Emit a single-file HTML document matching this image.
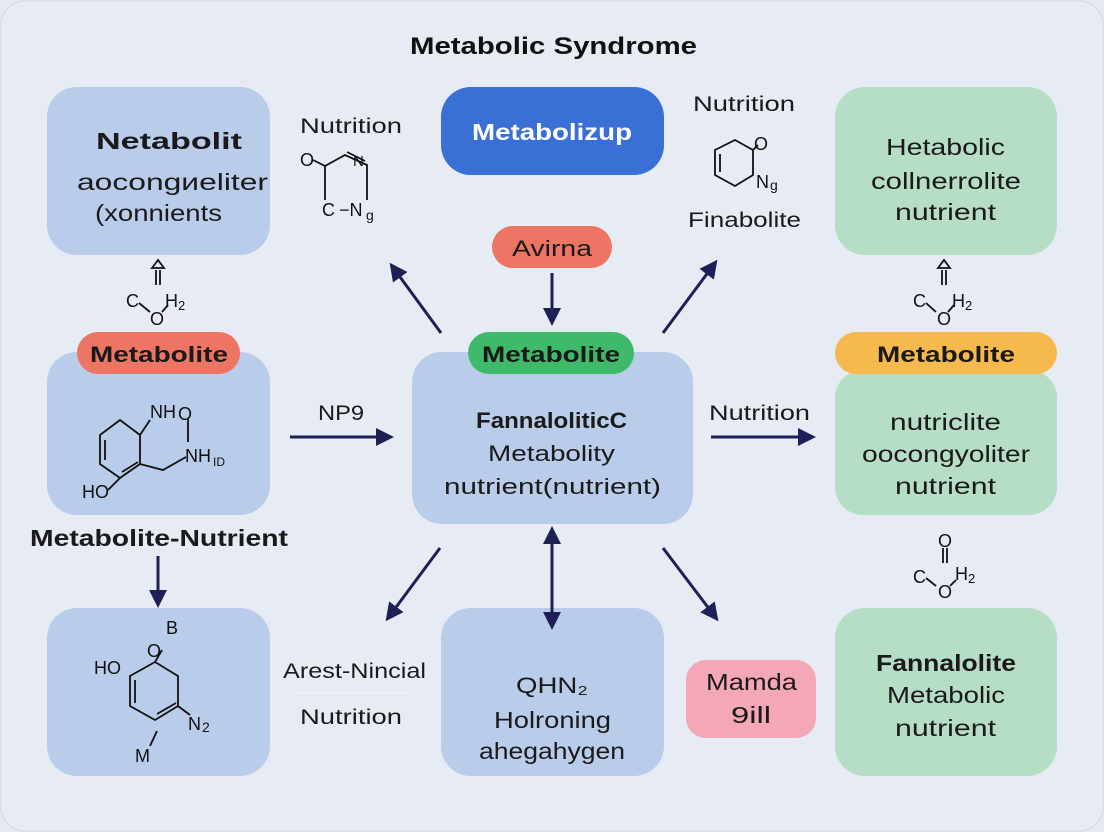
<!DOCTYPE html>
<html><head><meta charset="utf-8"><style>
html,body{margin:0;padding:0;background:#e4e9f2;}
svg{display:block;font-family:"Liberation Sans",sans-serif;}
</style></head><body>
<svg width="1104" height="832" viewBox="0 0 1104 832" xmlns="http://www.w3.org/2000/svg">
<defs>
<marker id="b" markerWidth="18" markerHeight="18" refX="14" refY="9" orient="auto-start-reverse" markerUnits="userSpaceOnUse"><path d="M0,0 L18,9 L0,18 Z" fill="#1e1f55"/></marker>
</defs>
<rect x="1" y="1" width="1102" height="830" rx="24" fill="#e6ebf4" stroke="#d3d9e4"/>
<text x="410" y="54" font-size="24" font-weight="bold" fill="#111" textLength="287" lengthAdjust="spacingAndGlyphs">Metabolic Syndrome</text>

<rect x="47" y="87" width="223" height="168" rx="30" fill="#b9cce9"/>
<rect x="47" y="352" width="223" height="163" rx="30" fill="#b9cce9"/>
<rect x="47" y="608" width="223" height="168" rx="30" fill="#b9cce9"/>
<rect x="441" y="87" width="223" height="88" rx="30" fill="#3a6fd5"/>
<rect x="412" y="352" width="281" height="172" rx="30" fill="#b9cce9"/>
<rect x="441" y="608" width="223" height="168" rx="30" fill="#b9cce9"/>
<rect x="835" y="87" width="222" height="168" rx="30" fill="#b6ddc6"/>
<rect x="835" y="370" width="222" height="145" rx="28" fill="#b6ddc6"/>
<rect x="835" y="608" width="222" height="168" rx="30" fill="#b6ddc6"/>

<rect x="77" y="332" width="163" height="42" rx="21" fill="#ec7563"/>
<rect x="468" y="332" width="166" height="42" rx="21" fill="#3fba6a"/>
<rect x="835" y="332" width="222" height="42" rx="21" fill="#f5b94e"/>
<rect x="492" y="226" width="120" height="42" rx="21" fill="#ec7563"/>
<rect x="686" y="660" width="130" height="78" rx="20" fill="#f4a7b6"/>

<g fill="#1a1a1a" lengthAdjust="spacingAndGlyphs">
<text x="90" y="362" font-size="22" font-weight="bold" textLength="138" lengthAdjust="spacingAndGlyphs">Metabolite</text>
<text x="482" y="362" font-size="22" font-weight="bold" textLength="138" lengthAdjust="spacingAndGlyphs">Metabolite</text>
<text x="877" y="362" font-size="22" font-weight="bold" textLength="138" lengthAdjust="spacingAndGlyphs">Metabolite</text>
<text x="512" y="256" font-size="22" textLength="80" lengthAdjust="spacingAndGlyphs">Avirna</text>
<text x="706" y="690" font-size="23" textLength="91" lengthAdjust="spacingAndGlyphs">Mamda</text>
<text x="731" y="723" font-size="23" textLength="40" lengthAdjust="spacingAndGlyphs">9ill</text>

<text x="96" y="149" font-size="23" font-weight="bold" textLength="146" lengthAdjust="spacingAndGlyphs">Netabolit</text>
<text x="77" y="190" font-size="23" textLength="191" lengthAdjust="spacingAndGlyphs">aocongиeliter</text>
<text x="95" y="221" font-size="23" textLength="127" lengthAdjust="spacingAndGlyphs">(xonnients</text>
<text x="472" y="140" font-size="23" font-weight="bold" fill="#fff" textLength="160" lengthAdjust="spacingAndGlyphs">Metabolizup</text>
<text x="886" y="155" font-size="23" textLength="119" lengthAdjust="spacingAndGlyphs">Hetabolic</text>
<text x="871" y="189" font-size="23" textLength="150" lengthAdjust="spacingAndGlyphs">collnerrolite</text>
<text x="895" y="220" font-size="23" textLength="101" lengthAdjust="spacingAndGlyphs">nutrient</text>
<text x="476" y="428" font-size="22" font-weight="bold" textLength="151" lengthAdjust="spacingAndGlyphs">FannaloliticC</text>
<text x="488" y="461" font-size="22" textLength="127" lengthAdjust="spacingAndGlyphs">Metabolity</text>
<text x="444" y="494" font-size="22" textLength="217" lengthAdjust="spacingAndGlyphs">nutrient(nutrient)</text>
<text x="890" y="430" font-size="23" textLength="111" lengthAdjust="spacingAndGlyphs">nutriclite</text>
<text x="862" y="462" font-size="23" textLength="168" lengthAdjust="spacingAndGlyphs">oocongyoliter</text>
<text x="895" y="494" font-size="23" textLength="101" lengthAdjust="spacingAndGlyphs">nutrient</text>
<text x="516" y="693" font-size="22" textLength="72" lengthAdjust="spacingAndGlyphs">QHN₂</text>
<text x="494" y="728" font-size="23" textLength="117" lengthAdjust="spacingAndGlyphs">Holroning</text>
<text x="479" y="759" font-size="23" textLength="146" lengthAdjust="spacingAndGlyphs">ahegahygen</text>
<text x="876" y="671" font-size="23" font-weight="bold" textLength="140" lengthAdjust="spacingAndGlyphs">Fannalolite</text>
<text x="887" y="703" font-size="23" textLength="118" lengthAdjust="spacingAndGlyphs">Metabolic</text>
<text x="895" y="736" font-size="23" textLength="101" lengthAdjust="spacingAndGlyphs">nutrient</text>
<text x="300" y="133" font-size="21" textLength="102" lengthAdjust="spacingAndGlyphs">Nutrition</text>
<text x="693" y="111" font-size="21" textLength="102" lengthAdjust="spacingAndGlyphs">Nutrition</text>
<text x="688" y="227" font-size="21" textLength="113" lengthAdjust="spacingAndGlyphs">Finabolite</text>
<text x="318" y="420" font-size="21" textLength="46" lengthAdjust="spacingAndGlyphs">NP9</text>
<text x="709" y="420" font-size="21" textLength="101" lengthAdjust="spacingAndGlyphs">Nutrition</text>
<text x="30" y="546" font-size="23" font-weight="bold" textLength="258" lengthAdjust="spacingAndGlyphs">Metabolite-Nutrient</text>
<text x="283" y="678" font-size="21" textLength="143" lengthAdjust="spacingAndGlyphs">Arest-Nincial</text>
<text x="300" y="724" font-size="21" textLength="102" lengthAdjust="spacingAndGlyphs">Nutrition</text>
</g>
<line x1="296" y1="693" x2="406" y2="693" stroke="#f5f7fb" stroke-width="1"/>

<g stroke="#1e1f55" stroke-width="3" fill="none">
<line x1="441" y1="333" x2="392" y2="266" marker-end="url(#b)"/>
<line x1="663" y1="333" x2="715" y2="263" marker-end="url(#b)"/>
<line x1="552" y1="273" x2="552" y2="322" marker-end="url(#b)"/>
<line x1="290" y1="437" x2="390" y2="437" marker-end="url(#b)"/>
<line x1="711" y1="437" x2="812" y2="437" marker-end="url(#b)"/>
<line x1="158" y1="556" x2="158" y2="604" marker-end="url(#b)"/>
<line x1="440" y1="548" x2="388" y2="618" marker-end="url(#b)"/>
<line x1="663" y1="548" x2="716" y2="618" marker-end="url(#b)"/>
<line x1="552" y1="530" x2="552" y2="626" marker-start="url(#b)" marker-end="url(#b)"/>
</g>

<g stroke="#111" stroke-width="1.8" fill="none">
<path d="M313,160 L325,166 L345,155 L367,165 L367,200 M325,166 L325,200 M347,152 L365,161"/>
<path d="M100,435 L100,464 L120,478 L140,464 L140,435 L120,420 Z M105,440 L105,460 M122,472 L138,462 M140,464 L163,470 L186,457 M140,435 L150,420 M188,418 L188,442 M120,478 L108,490"/>
<path d="M130,676 L130,706 L155,720 L178,706 L178,676 L155,662 Z M135,680 L135,703 M157,714 L176,703 M155,662 L162,650 M178,706 L190,715 M157,731 L150,746"/>
<path d="M715,150 L735,140 L753,150 L753,175 L735,186 L715,175 Z M720,154 L720,172 M753,150 L758,145"/>
<path d="M156,270 L156,285 M160,270 L160,285 M152,268 L158,260 L164,268 Z M139,303 L150,312 M162,312 L168,305"/>
<path d="M942,270 L942,285 M946,270 L946,285 M938,268 L944,260 L950,268 Z M926,303 L936,312 M948,312 L954,305"/>
<path d="M943,548 L943,563 M947,548 L947,563 M926,578 L936,586 M950,586 L956,580"/>
</g>
<g fill="#111" font-size="18">
<text x="300" y="166">O</text><text x="353" y="166" font-size="15">N</text>
<text x="322" y="216">C</text><text x="339" y="216">−N</text><text x="366" y="220" font-size="14">g</text>
<text x="150" y="418">NH</text><text x="178" y="420">O</text>
<text x="185" y="462">NH</text><text x="213" y="466" font-size="12">ID</text>
<text x="82" y="498">HO</text>
<text x="166" y="634">B</text><text x="147" y="657">O</text>
<text x="94" y="674">HO</text>
<text x="188" y="730">N</text><text x="202" y="732" font-size="14">2</text>
<text x="135" y="762">M</text>
<text x="754" y="150">O</text><text x="756" y="188">N</text><text x="770" y="190" font-size="14">g</text>
<text x="126" y="307">C</text><text x="165" y="307">H</text><text x="178" y="310" font-size="13">2</text><text x="150" y="325">O</text>
<text x="913" y="307">C</text><text x="952" y="307">H</text><text x="965" y="310" font-size="13">2</text><text x="937" y="325">O</text>
<text x="938" y="547">O</text>
<text x="913" y="583">C</text><text x="955" y="580">H</text><text x="968" y="583" font-size="13">2</text><text x="938" y="598">O</text>
</g>
</svg>
</body></html>
